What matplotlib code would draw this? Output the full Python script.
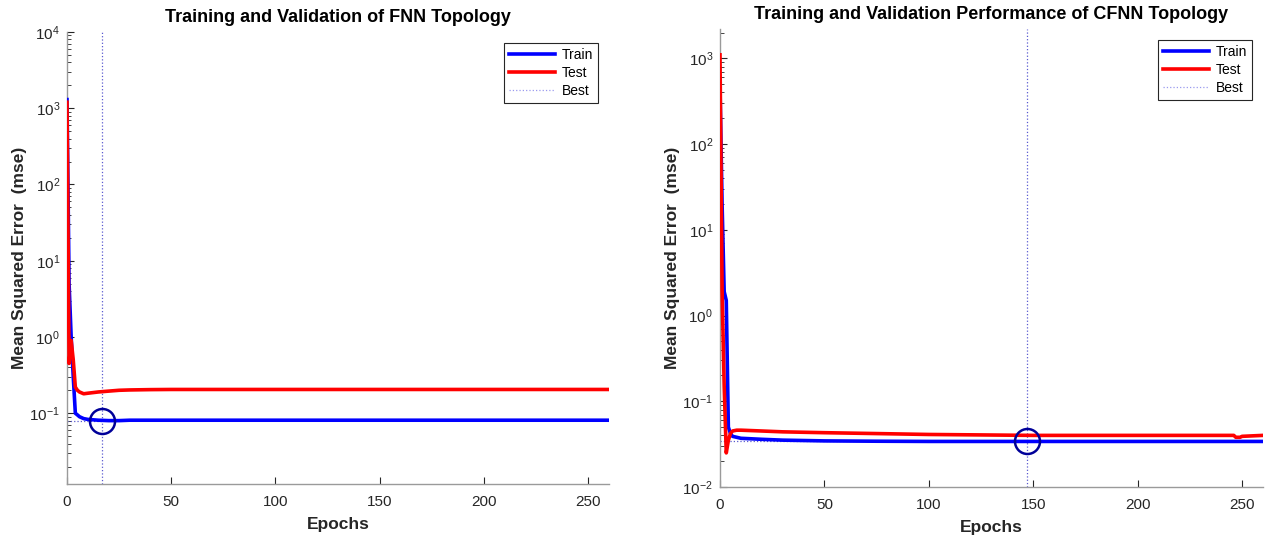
import matplotlib
matplotlib.use("Agg")
import matplotlib.pyplot as plt
from matplotlib.ticker import LogLocator, FixedLocator

plt.rcParams['font.family'] = ['Liberation Sans', 'DejaVu Sans']
plt.rcParams['mathtext.default'] = 'regular'
plt.rcParams['axes.unicode_minus'] = False

# ---- FNN topology ----
fnn_epochs = [0, 1, 2, 3, 4, 5, 6, 8, 10, 15, 20, 25, 30, 40, 50, 75, 100, 150, 200, 260]
fnn_train = [1300, 5.0, 1.0, 0.3, 0.1, 0.095, 0.09, 0.085, 0.083, 0.081, 0.080, 0.080,
             0.081, 0.081, 0.081, 0.081, 0.081, 0.081, 0.081, 0.081]
fnn_test = [1200, 0.45, 0.9, 0.5, 0.22, 0.2, 0.19, 0.18, 0.183, 0.19, 0.195, 0.2,
            0.202, 0.204, 0.205, 0.205, 0.205, 0.205, 0.205, 0.205]
fnn_best_epoch = 17
fnn_best_value = 0.080
fnn_ylim = (0.0118, 1e4)
fnn_yticks = [1e-1, 1e0, 1e1, 1e2, 1e3, 1e4]

# ---- CFNN topology ----
cfnn_epochs = [0, 1, 2, 3, 4, 5, 6, 8, 10, 20, 30, 50, 75, 100, 125, 150, 200,
               246, 247, 249, 250, 260]
cfnn_train = [460, 20, 1.9, 1.5, 0.05, 0.042, 0.039, 0.038, 0.037, 0.036, 0.0352,
              0.0345, 0.0342, 0.034, 0.034, 0.034, 0.034, 0.034, 0.034, 0.034, 0.034, 0.034]
cfnn_test = [1100, 2.0, 0.15, 0.025, 0.035, 0.042, 0.045, 0.046, 0.046, 0.045, 0.044,
             0.043, 0.042, 0.041, 0.0405, 0.040, 0.040, 0.040, 0.038, 0.038, 0.039, 0.040]
cfnn_best_epoch = 147
cfnn_best_value = 0.034
cfnn_ylim = (1e-2, 2200)
cfnn_yticks = [1e-2, 1e-1, 1e0, 1e1, 1e2, 1e3]

xticks = [0, 50, 100, 150, 200, 250]
xlim = (0, 260)

W, H = 1274, 542
fig = plt.figure(figsize=(W / 100, H / 100), dpi=100)


def box(l, r, t, b):
    return [l / W, 1 - b / H, (r - l) / W, (b - t) / H]


ax1 = fig.add_axes(box(67, 609, 32, 484))
ax2 = fig.add_axes(box(720, 1263, 29, 487))

best_color = '#5a5ad0'
circle_color = '#000099'


def draw(ax, title, ep, tr, te, best_ep, best_val, ylim, yticks):
    ax.semilogy(ep, tr, color='#0000ff', lw=2.6, label='Train', zorder=3)
    ax.semilogy(ep, te, color='#ff0000', lw=2.6, label='Test', zorder=3)
    ax.plot([best_ep, best_ep], ylim, ls=':', color=best_color, lw=0.9,
            label='Best', zorder=2)
    ax.plot([0, best_ep], [best_val, best_val], ls=':', color=best_color, lw=0.9,
            zorder=2)
    ax.plot([best_ep], [best_val], 'o', ms=18, mfc='none', mec=circle_color,
            mew=1.8, zorder=4)
    ax.set_xlim(*xlim)
    ax.set_ylim(*ylim)
    ax.xaxis.set_major_locator(FixedLocator(xticks))
    ax.yaxis.set_major_locator(FixedLocator(yticks))
    ax.yaxis.set_minor_locator(LogLocator(base=10, subs=range(2, 10), numticks=20))
    for s in ('top', 'right'):
        ax.spines[s].set_visible(False)
    for s in ('left', 'bottom'):
        ax.spines[s].set_color('#9a9a9a')
        ax.spines[s].set_linewidth(1.0)
    ax.tick_params(which='both', direction='in', colors='#262626', labelsize=11,
                   top=False, right=False)
    ax.tick_params(which='major', length=5)
    ax.tick_params(which='minor', length=3)
    ax.tick_params(axis='x', pad=8)
    ax.tick_params(axis='y', pad=5)
    ax.set_title(title, fontsize=13, fontweight='bold', pad=7)
    ax.set_xlabel('Epochs', fontsize=12.5, fontweight='bold', color='#262626', labelpad=6)
    ax.set_ylabel('Mean Squared Error  (mse)', fontsize=12.5, fontweight='bold',
                  color='#262626', labelpad=2)
    leg = ax.legend(loc='upper right', fontsize=10, handlelength=3.3,
                    fancybox=False, framealpha=1, edgecolor='#262626',
                    borderaxespad=0.8, labelspacing=0.3, handletextpad=0.5,
                    borderpad=0.35)
    leg.get_frame().set_linewidth(0.8)
    leg.legend_handles[2].set_color('#9999ee')


draw(ax1, 'Training and Validation of FNN Topology', fnn_epochs, fnn_train, fnn_test,
     fnn_best_epoch, fnn_best_value, fnn_ylim, fnn_yticks)
draw(ax2, 'Training and Validation Performance of CFNN Topology', cfnn_epochs,
     cfnn_train, cfnn_test, cfnn_best_epoch, cfnn_best_value, cfnn_ylim, cfnn_yticks)

fig.savefig('out.png', dpi=100)
